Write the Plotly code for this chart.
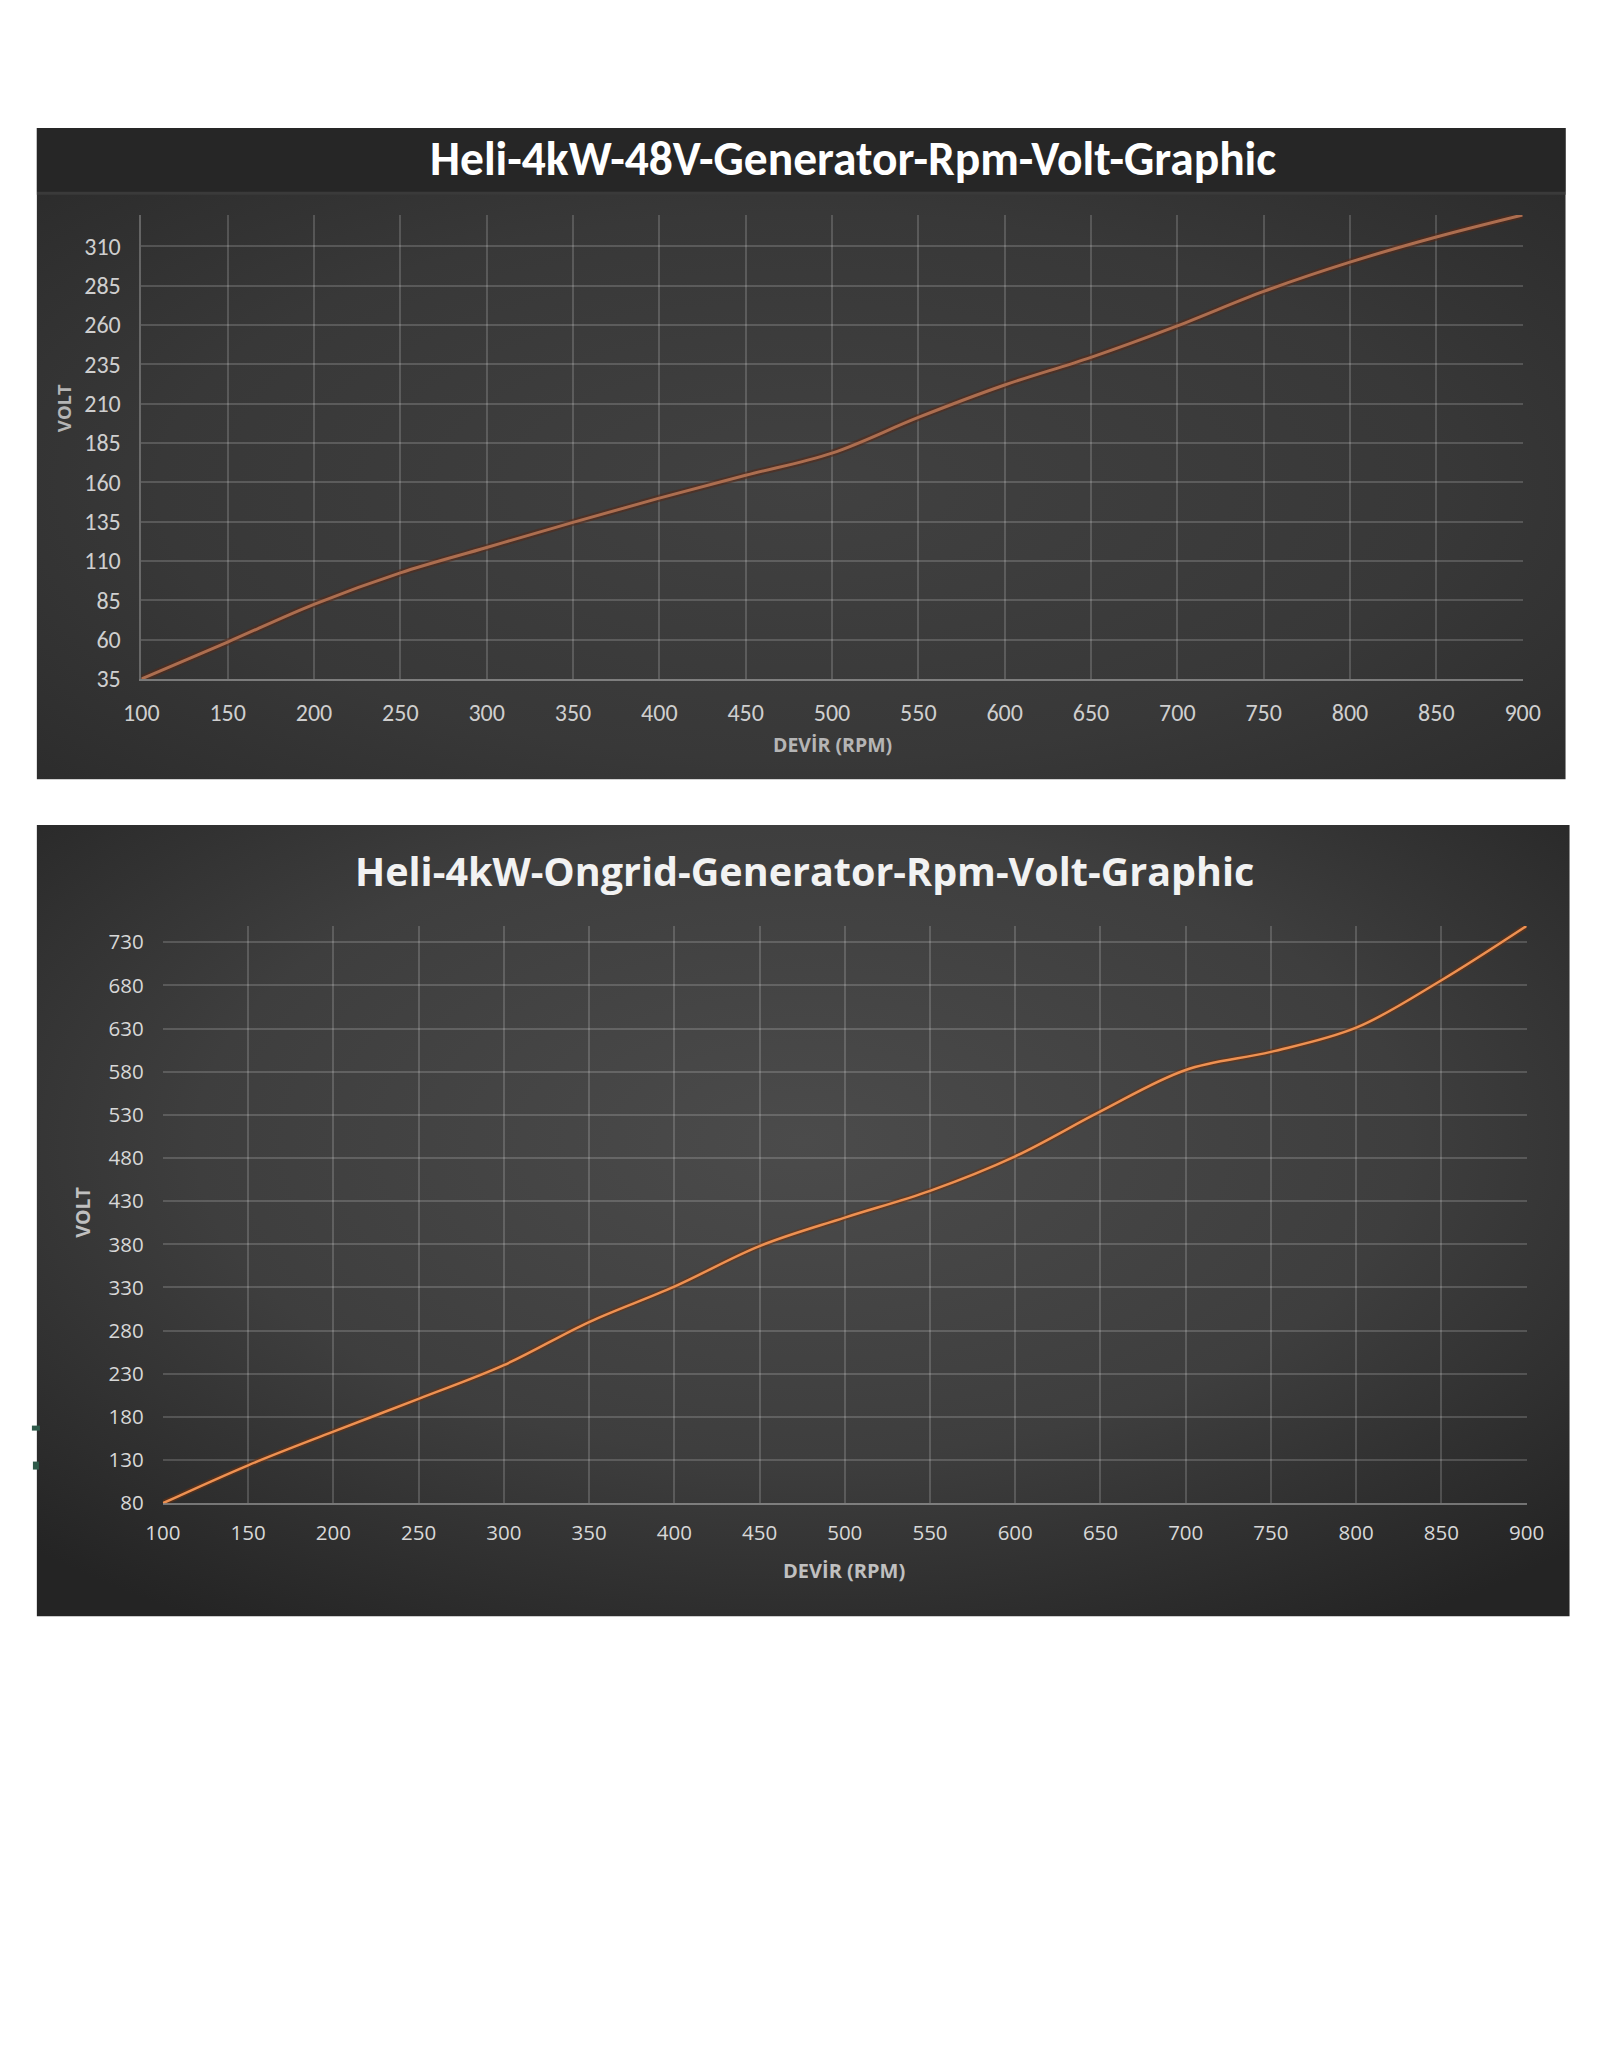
import base64
import plotly.graph_objects as go

W, H = 1600, 2071

# ---------------- data ----------------
rpm = [100, 150, 200, 250, 300, 350, 400, 450, 500, 550, 600, 650, 700, 750, 800, 850, 900]
volt_48v = [35, 58.5, 82.5, 102.5, 118.6, 134.6, 150, 164.5, 178.6, 201.3, 221.9, 239.5,
            259.5, 281.4, 300, 316, 330]
volt_ongrid = [80, 124, 163, 201, 240, 290, 331, 378, 411, 442, 482, 534,
               582, 603, 631, 686, 749]

title_48v = "Heli-4kW-48V-Generator-Rpm-Volt-Graphic"
title_ongrid = "Heli-4kW-Ongrid-Generator-Rpm-Volt-Graphic"
x_title = "DEVİR (RPM)"
y_title = "VOLT"

FONT = "Carlito, Lato, sans-serif"
FONT2 = "'Open Sans', Lato, sans-serif"


# map target page pixel positions to figure pixel positions (page render is slightly scaled)
def X(v):
    return ((v - 3.9) / 0.9946 - 15.3) / 0.981


def Y(v):
    return (v + 0.4) / 0.9938


def px(x):
    return X(x) / W


def py(y):
    return 1 - Y(y) / H


def svg_uri(svg):
    return "data:image/svg+xml;base64," + base64.b64encode(svg.encode()).decode()


# background boxes (target page coordinates)
b1 = dict(l=37.7, t=127.6, r=1564, b=779.5)
b2 = dict(l=37.7, t=825, r=1568, b=1617)
w1, h1 = b1["r"] - b1["l"], b1["b"] - b1["t"]
w2, h2 = b2["r"] - b2["l"], b2["b"] - b2["t"]
band = 191.5 - b1["t"]

svg1 = f'''<svg xmlns="http://www.w3.org/2000/svg" width="{w1:.0f}" height="{h1:.0f}" viewBox="0 0 {w1:.1f} {h1:.1f}" preserveAspectRatio="none">
<defs><radialGradient id="g" cx="50%" cy="55%" r="70%">
<stop offset="0" stop-color="#414141"/><stop offset="0.6" stop-color="#383838"/><stop offset="1" stop-color="#2b2b2b"/></radialGradient></defs>
<rect width="{w1:.1f}" height="{h1:.1f}" fill="url(#g)"/>
<rect width="{w1:.1f}" height="{band:.1f}" fill="#262626"/>
<rect y="{band:.1f}" width="{w1:.1f}" height="3" fill="#3a3a3a"/>
</svg>'''

svg2 = f'''<svg xmlns="http://www.w3.org/2000/svg" width="{w2:.0f}" height="{h2:.0f}" viewBox="0 0 {w2:.1f} {h2:.1f}" preserveAspectRatio="none">
<defs><radialGradient id="g" cx="50%" cy="40%" r="72%">
<stop offset="0" stop-color="#4b4b4b"/><stop offset="0.55" stop-color="#3e3e3e"/><stop offset="1" stop-color="#242424"/></radialGradient></defs>
<rect width="{w2:.1f}" height="{h2:.1f}" fill="url(#g)"/>
</svg>'''

fig = go.Figure()

# chart 1 line (shadow + line)
fig.add_trace(go.Scatter(x=rpm, y=volt_48v, mode="lines", line=dict(color="rgba(85,42,25,0.6)", width=7, shape="spline"),
                         xaxis="x", yaxis="y", hoverinfo="skip", showlegend=False))
fig.add_trace(go.Scatter(x=rpm, y=volt_48v, mode="lines", line=dict(color="#ac6e50", width=3, shape="spline"),
                         xaxis="x", yaxis="y", showlegend=False))
# chart 2 line
fig.add_trace(go.Scatter(x=rpm, y=volt_ongrid, mode="lines", line=dict(color="rgba(110,50,15,0.55)", width=6, shape="spline"),
                         xaxis="x2", yaxis="y2", hoverinfo="skip", showlegend=False))
fig.add_trace(go.Scatter(x=rpm, y=volt_ongrid, mode="lines", line=dict(color="#ee9152", width=2.5, shape="spline"),
                         xaxis="x2", yaxis="y2", showlegend=False))

grid = "rgba(255,255,255,0.17)"
tickfont1 = dict(family=FONT, size=24, color="#cfcfcf")
tickfont2 = dict(family=FONT2, size=20.5, color="#d8d8d8")

common_x = dict(range=[100, 900], tick0=100, dtick=50, showgrid=True, gridcolor=grid, gridwidth=1.5,
                zeroline=False, showline=True, linecolor="rgba(255,255,255,0.35)", linewidth=2,
                ticks="outside", tickcolor="rgba(0,0,0,0)", fixedrange=True)
common_y = dict(showgrid=True, gridcolor=grid, gridwidth=1.5, zeroline=False,
                ticks="outside", tickcolor="rgba(0,0,0,0)", fixedrange=True)

fig.update_layout(
    width=W, height=H,
    margin=dict(l=0, r=0, t=0, b=0),
    paper_bgcolor="white",
    plot_bgcolor="rgba(0,0,0,0)",
    showlegend=False,
    xaxis=dict(domain=[px(142.2), px(1521)], anchor="y", tickfont=tickfont1, ticklen=11, **common_x),
    yaxis=dict(domain=[py(679), py(214.7)], anchor="x", range=[35, 330], tick0=35, dtick=25, ticklen=14,
               tickfont=tickfont1, showline=True, linecolor="rgba(255,255,255,0.25)", linewidth=1.5, **common_y),
    xaxis2=dict(domain=[px(163.7), px(1525)], anchor="y2", tickfont=tickfont2, ticklen=10, **common_x),
    yaxis2=dict(domain=[py(1503.7), py(926)], anchor="x2", range=[80, 749], tick0=80, dtick=50, ticklen=14,
                tickfont=tickfont2, showline=False, **common_y),
    images=[
        dict(source=svg_uri(svg1), xref="paper", yref="paper", x=px(b1["l"]), y=py(b1["t"]),
             sizex=(X(b1["r"]) - X(b1["l"])) / W, sizey=(Y(b1["b"]) - Y(b1["t"])) / H,
             xanchor="left", yanchor="top", sizing="stretch", layer="below"),
        dict(source=svg_uri(svg2), xref="paper", yref="paper", x=px(b2["l"]), y=py(b2["t"]),
             sizex=(X(b2["r"]) - X(b2["l"])) / W, sizey=(Y(b2["b"]) - Y(b2["t"])) / H,
             xanchor="left", yanchor="top", sizing="stretch", layer="below"),
    ],
    annotations=[
        dict(text=f"<b>{title_48v}</b>", xref="paper", yref="paper", x=px(853), y=py(159),
             showarrow=False, xanchor="center", yanchor="middle",
             font=dict(family=FONT, size=47.5, color="#ffffff")),
        dict(text=f"<b>{title_ongrid}</b>", xref="paper", yref="paper", x=px(804), y=py(871),
             showarrow=False, xanchor="center", yanchor="middle",
             font=dict(family=FONT2, size=39.5, color="#f2f2f2")),
        dict(text=f"<b>{y_title}</b>", xref="paper", yref="paper", x=px(64), y=py(408),
             showarrow=False, textangle=-90, xanchor="center", yanchor="middle",
             font=dict(family=FONT2, size=18.5, color="#b5b5b5")),
        dict(text=f"<b>{x_title}</b>", xref="paper", yref="paper", x=px(832), y=py(745),
             showarrow=False, xanchor="center", yanchor="middle",
             font=dict(family=FONT2, size=19.5, color="#b5b5b5")),
        dict(text=f"<b>{y_title}</b>", xref="paper", yref="paper", x=px(84), y=py(1213),
             showarrow=False, textangle=-90, xanchor="center", yanchor="middle",
             font=dict(family=FONT2, size=19.5, color="#c0c0c0")),
        dict(text=f"<b>{x_title}</b>", xref="paper", yref="paper", x=px(844), y=py(1571),
             showarrow=False, xanchor="center", yanchor="middle",
             font=dict(family=FONT2, size=20, color="#c0c0c0")),
    ],
    shapes=[
        dict(type="rect", xref="paper", yref="paper", x0=px(33), x1=px(41), y0=py(1431), y1=py(1426),
             fillcolor="#2f5a4a", line=dict(width=0), layer="above"),
        dict(type="rect", xref="paper", yref="paper", x0=px(34), x1=px(40), y0=py(1470), y1=py(1462),
             fillcolor="#2f5a4a", line=dict(width=0), layer="above"),
    ],
)

fig.write_html("out.html")
